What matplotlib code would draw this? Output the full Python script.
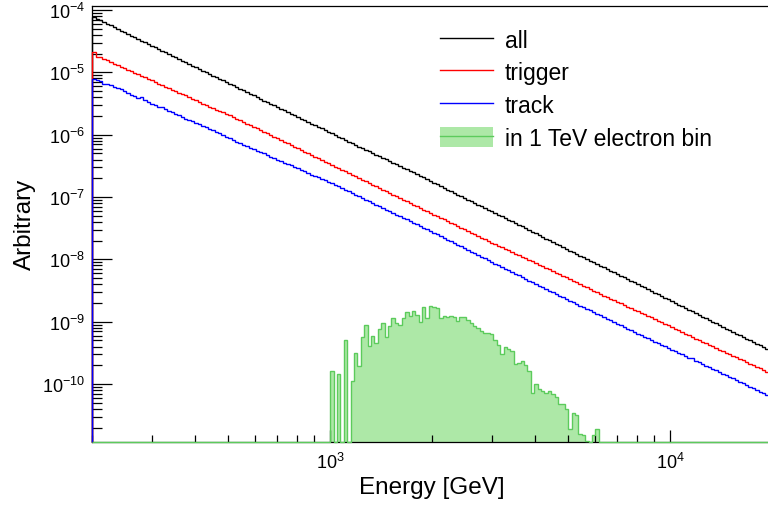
import numpy as np
import matplotlib
matplotlib.use("Agg")
import matplotlib.pyplot as plt
from matplotlib.lines import Line2D
from matplotlib.patches import Patch
from matplotlib.ticker import LogLocator, NullFormatter

plt.rcParams['font.family'] = ['Liberation Sans', 'DejaVu Sans']
plt.rcParams['mathtext.fontset'] = 'custom'
plt.rcParams['mathtext.rm'] = 'Liberation Sans'
plt.rcParams['mathtext.it'] = 'Liberation Sans:italic'
plt.rcParams['mathtext.bf'] = 'Liberation Sans:bold'

# Binning: 100 log-spaced bins per decade from 200 GeV to 20 TeV
E_MIN = 200.0
E_MAX = 20000.0
BINS_PER_DECADE = 100
N_BINS = 200

# log10 of the bin contents, one entry per energy bin
log_all = [
    -4.11, -4.14, -4.16, -4.19, -4.22, -4.24, -4.27, -4.30, -4.33, -4.35,
    -4.38, -4.41, -4.43, -4.46, -4.49, -4.51, -4.54, -4.57, -4.59, -4.62,
    -4.65, -4.68, -4.70, -4.73, -4.76, -4.78, -4.81, -4.84, -4.86, -4.89,
    -4.92, -4.94, -4.97, -5.00, -5.02, -5.05, -5.08, -5.11, -5.13, -5.16,
    -5.19, -5.21, -5.24, -5.27, -5.29, -5.32, -5.35, -5.37, -5.40, -5.43,
    -5.46, -5.48, -5.51, -5.53, -5.56, -5.59, -5.61, -5.64, -5.66, -5.69,
    -5.72, -5.74, -5.77, -5.79, -5.82, -5.85, -5.87, -5.90, -5.93, -5.95,
    -5.98, -6.00, -6.03, -6.06, -6.08, -6.11, -6.13, -6.16, -6.19, -6.21,
    -6.24, -6.26, -6.29, -6.32, -6.34, -6.37, -6.39, -6.42, -6.45, -6.47,
    -6.50, -6.53, -6.55, -6.58, -6.60, -6.63, -6.66, -6.68, -6.71, -6.74,
    -6.77, -6.79, -6.82, -6.85, -6.88, -6.90, -6.93, -6.96, -6.99, -7.01,
    -7.04, -7.07, -7.09, -7.12, -7.15, -7.18, -7.20, -7.23, -7.26, -7.28,
    -7.31, -7.34, -7.37, -7.39, -7.42, -7.45, -7.47, -7.50, -7.53, -7.56,
    -7.58, -7.61, -7.64, -7.67, -7.69, -7.72, -7.75, -7.77, -7.80, -7.83,
    -7.86, -7.88, -7.91, -7.94, -7.96, -7.99, -8.02, -8.05, -8.07, -8.10,
    -8.13, -8.15, -8.18, -8.21, -8.24, -8.26, -8.29, -8.32, -8.35, -8.37,
    -8.40, -8.43, -8.45, -8.48, -8.51, -8.54, -8.56, -8.59, -8.62, -8.64,
    -8.67, -8.70, -8.73, -8.75, -8.78, -8.81, -8.83, -8.86, -8.89, -8.92,
    -8.94, -8.97, -9.00, -9.02, -9.05, -9.08, -9.11, -9.13, -9.16, -9.19,
    -9.21, -9.24, -9.27, -9.30, -9.32, -9.35, -9.38, -9.40, -9.43, -9.46,
]

log_trigger = [
    -4.68, -4.75, -4.76, -4.78, -4.80, -4.83, -4.86, -4.88, -4.91, -4.93,
    -4.96, -4.98, -5.01, -5.03, -5.05, -5.08, -5.10, -5.13, -5.15, -5.18,
    -5.20, -5.23, -5.25, -5.28, -5.30, -5.33, -5.35, -5.37, -5.40, -5.42,
    -5.45, -5.47, -5.50, -5.52, -5.55, -5.57, -5.60, -5.62, -5.64, -5.67,
    -5.69, -5.72, -5.74, -5.77, -5.79, -5.82, -5.84, -5.87, -5.89, -5.92,
    -5.95, -5.97, -6.00, -6.03, -6.05, -6.08, -6.11, -6.13, -6.16, -6.19,
    -6.21, -6.24, -6.27, -6.29, -6.32, -6.35, -6.37, -6.40, -6.43, -6.45,
    -6.48, -6.51, -6.53, -6.56, -6.59, -6.61, -6.64, -6.67, -6.69, -6.72,
    -6.75, -6.77, -6.80, -6.83, -6.85, -6.88, -6.91, -6.93, -6.96, -6.99,
    -7.01, -7.04, -7.07, -7.09, -7.12, -7.15, -7.17, -7.20, -7.23, -7.26,
    -7.29, -7.31, -7.34, -7.36, -7.39, -7.42, -7.44, -7.47, -7.49, -7.52,
    -7.54, -7.57, -7.60, -7.62, -7.65, -7.67, -7.70, -7.73, -7.75, -7.78,
    -7.80, -7.83, -7.85, -7.88, -7.91, -7.93, -7.96, -7.98, -8.01, -8.03,
    -8.06, -8.09, -8.11, -8.14, -8.16, -8.19, -8.22, -8.24, -8.27, -8.29,
    -8.32, -8.34, -8.37, -8.40, -8.42, -8.45, -8.47, -8.50, -8.53, -8.55,
    -8.58, -8.60, -8.63, -8.65, -8.68, -8.70, -8.73, -8.76, -8.78, -8.81,
    -8.83, -8.86, -8.88, -8.91, -8.93, -8.96, -8.99, -9.01, -9.04, -9.06,
    -9.09, -9.11, -9.14, -9.16, -9.19, -9.22, -9.24, -9.27, -9.29, -9.32,
    -9.34, -9.37, -9.39, -9.42, -9.45, -9.47, -9.50, -9.52, -9.55, -9.57,
    -9.60, -9.62, -9.65, -9.68, -9.70, -9.73, -9.75, -9.78, -9.80, -9.83,
]

log_track = [
    -5.10, -5.13, -5.14, -5.19, -5.18, -5.21, -5.24, -5.25, -5.27, -5.30,
    -5.33, -5.36, -5.38, -5.41, -5.40, -5.45, -5.48, -5.50, -5.52, -5.55,
    -5.55, -5.59, -5.62, -5.63, -5.67, -5.69, -5.71, -5.74, -5.76, -5.78,
    -5.81, -5.83, -5.86, -5.88, -5.91, -5.93, -5.96, -5.98, -6.01, -6.03,
    -6.06, -6.08, -6.11, -6.13, -6.16, -6.18, -6.21, -6.23, -6.26, -6.28,
    -6.30, -6.33, -6.35, -6.37, -6.40, -6.42, -6.45, -6.47, -6.49, -6.52,
    -6.54, -6.56, -6.59, -6.61, -6.64, -6.66, -6.68, -6.71, -6.73, -6.76,
    -6.78, -6.80, -6.83, -6.85, -6.88, -6.91, -6.93, -6.96, -6.99, -7.01,
    -7.04, -7.07, -7.09, -7.12, -7.15, -7.17, -7.20, -7.23, -7.25, -7.28,
    -7.31, -7.33, -7.36, -7.39, -7.41, -7.44, -7.47, -7.49, -7.52, -7.55,
    -7.58, -7.60, -7.63, -7.66, -7.69, -7.71, -7.74, -7.77, -7.79, -7.82,
    -7.85, -7.88, -7.90, -7.93, -7.96, -7.98, -8.01, -8.04, -8.07, -8.09,
    -8.12, -8.15, -8.17, -8.20, -8.23, -8.25, -8.28, -8.31, -8.34, -8.36,
    -8.39, -8.42, -8.44, -8.47, -8.50, -8.52, -8.55, -8.58, -8.61, -8.63,
    -8.66, -8.69, -8.71, -8.74, -8.77, -8.79, -8.82, -8.85, -8.87, -8.90,
    -8.93, -8.95, -8.98, -9.00, -9.03, -9.06, -9.08, -9.11, -9.13, -9.16,
    -9.19, -9.21, -9.24, -9.26, -9.29, -9.32, -9.34, -9.37, -9.39, -9.42,
    -9.45, -9.47, -9.50, -9.52, -9.55, -9.58, -9.58, -9.63, -9.65, -9.68,
    -9.71, -9.73, -9.76, -9.78, -9.81, -9.84, -9.86, -9.89, -9.91, -9.94,
    -9.97, -9.99, -10.02, -10.04, -10.07, -10.10, -10.12, -10.15, -10.17, -10.20,
]

# Energies of events that fall in the 1 TeV electron bin (bins 70..148, rest empty)
electron_bin_first = 70
electron_bin_counts = [
    1.63e-10, 0.0, 1.45e-10, 0.0, 5.1e-10, 0.0, 1.13e-10, 3.1e-10, 1.97e-10, 5.6e-10,
    8.9e-10, 4.1e-10, 6.0e-10, 4.5e-10, 7.6e-10, 9.5e-10, 5.6e-10, 8.6e-10, 1.15e-9, 9.5e-10,
    8.9e-10, 1.15e-9, 1.45e-9, 1.22e-9, 1.50e-9, 1.28e-9, 9.8e-10, 1.70e-9, 1.15e-9, 1.77e-9,
    1.70e-9, 1.66e-9, 1.13e-9, 1.22e-9, 1.18e-9, 1.22e-9, 1.18e-9, 1.04e-9, 1.20e-9, 1.18e-9,
    1.08e-9, 9.5e-10, 8.4e-10, 7.8e-10, 7.2e-10, 6.6e-10, 6.5e-10, 6.35e-10, 5.0e-10, 4.2e-10,
    3.0e-10, 3.9e-10, 3.65e-10, 3.35e-10, 2.1e-10, 2.2e-10, 2.3e-10, 2.0e-10, 1.63e-10, 7.1e-11,
    1.0e-10, 8.3e-11, 7.8e-11, 7.1e-11, 7.8e-11, 6.9e-11, 6.1e-11, 4.8e-11, 4.8e-11, 4.0e-11,
    1.9e-11, 3.4e-11, 3.2e-11, 1.6e-11, 1.5e-11, 1.23e-11, 0.0, 1.5e-11, 1.9e-11,
]

labels = ["all", "trigger", "track", "in 1 TeV electron bin"]
line_colors = ["#000000", "#ff0000", "#0000ff"]
green_edge = "#5ccb5c"
green_fill = "#ade8a7"

Y_LO = 10 ** -10.93
Y_HI = 10 ** -3.93

edges = E_MIN * 10 ** (np.arange(N_BINS + 1) / BINS_PER_DECADE)

electron = np.zeros(N_BINS)
electron[electron_bin_first:electron_bin_first + len(electron_bin_counts)] = electron_bin_counts
# empty bins sit on the lower edge of the frame
electron_drawn = np.where(electron > 0, electron, Y_LO)

fig = plt.figure(figsize=(7.68, 5.06), dpi=100)
ax = fig.add_axes([92.3 / 768, 63 / 506, 680 / 768, 436.3 / 506])
ax.set_xscale("log")
ax.set_yscale("log")
ax.set_xlim(E_MIN, E_MAX)
ax.set_ylim(Y_LO, Y_HI)

for logs, col in zip([log_all, log_trigger, log_track], line_colors):
    ax.stairs(10 ** np.asarray(logs), edges, baseline=Y_LO, color=col,
              lw=1.0, zorder=3, clip_on=False)

ax.stairs(electron_drawn, edges, baseline=Y_LO, fill=True, color=green_fill,
          lw=0, zorder=1)
ax.stairs(electron_drawn, edges, baseline=None, color=green_edge,
          lw=1.0, zorder=3, clip_on=False)

for sp in ax.spines.values():
    sp.set_linewidth(0.9)

ax.xaxis.set_major_locator(LogLocator(base=10, numticks=10))
ax.xaxis.set_minor_locator(LogLocator(base=10, subs=np.arange(2, 10), numticks=20))
ax.xaxis.set_minor_formatter(NullFormatter())
ax.yaxis.set_major_locator(LogLocator(base=10, numticks=20))
ax.yaxis.set_minor_locator(LogLocator(base=10, subs=np.arange(2, 10), numticks=40))
ax.yaxis.set_minor_formatter(NullFormatter())

ax.tick_params(axis="y", which="major", direction="in", length=14.4, width=0.9,
               labelsize=13, pad=5)
ax.tick_params(axis="y", which="minor", direction="in", length=7.2, width=0.9)
ax.tick_params(axis="x", which="major", direction="in", length=8.6, width=0.9,
               labelsize=13, pad=7)
ax.tick_params(axis="x", which="minor", direction="in", length=4.8, width=0.9)
ax.tick_params(top=False, right=False, which="both")

ax.set_xlabel("Energy [GeV]", fontsize=17.5, va="baseline")
ax.xaxis.set_label_coords(0.5, -0.1169)
ax.set_ylabel("Arbitrary", fontsize=17.5, va="center")
ax.yaxis.set_label_coords(-0.099, 0.5)

handles = [Line2D([], [], color=c, lw=1.0) for c in line_colors]
handles.append((Patch(facecolor=green_fill, edgecolor="none"),
                Line2D([], [], color=green_edge, lw=1.0)))
ax.legend(handles, labels, loc="upper left",
          bbox_to_anchor=(440 / 768, 1 - 29.5 / 506), bbox_transform=fig.transFigure,
          frameon=False, fontsize=16.5, handlelength=2.31, handleheight=1.0,
          handletextpad=0.52, labelspacing=0.42, borderpad=0, borderaxespad=0)

fig.savefig("out.png", dpi=100)
